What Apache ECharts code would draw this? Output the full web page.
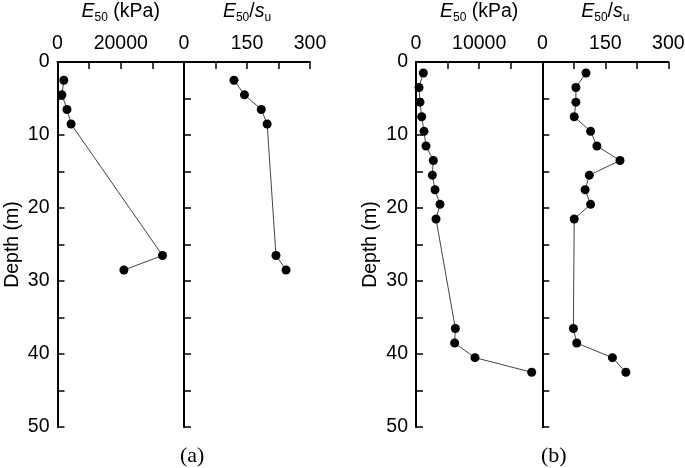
<!DOCTYPE html>
<html>
<head>
<meta charset="utf-8">
<script src="https://cdn.jsdelivr.net/npm/echarts@6/dist/echarts.min.js"></script>
<style>
  html, body { margin: 0; padding: 0; background: #fff; }
  #chart { width: 685px; height: 468px; }
</style>
</head>
<body>
<div id="chart"></div>
<script>
// panel (a)
const depthA = [2.5, 4.5, 6.5, 8.5, 26.5, 28.5]
const e50A = [2000, 1400, 3000, 4300, 33200, 21000]
const ratioA = [119, 144, 184, 198, 219, 243]

// panel (b)
const depthB = [1.5, 3.5, 5.5, 7.5, 9.5, 11.5, 13.5, 15.5, 17.5, 19.5, 21.5, 36.5, 38.5, 40.5, 42.5]
const e50B = [1160, 480, 630, 900, 1270, 1580, 2740, 2590, 3010, 3800, 3170, 6230, 6120, 9340, 18320]
const ratioB = [104, 80, 80, 76, 115, 130, 185, 112, 102, 115, 76, 74, 82, 167, 199]

const depthTicks = [0, 10, 20, 30, 40, 50]
const e50TicksA = [0, 20000]
const e50TicksB = [0, 10000]
const ratioTicks = [0, 150, 300]

const chart = echarts.init(document.getElementById("chart"))

const FONT = "Liberation Sans, Arial, sans-serif"
const FS = 19.5
const axisLine = { show: true, lineStyle: { color: "#000", width: 2 } }
const axisTick = { show: true, inside: true, length: 7, lineStyle: { color: "#000", width: 1.5 } }

const rich = {
  i: { fontFamily: FONT, fontSize: FS, fontStyle: "italic", color: "#000" },
  t: { fontFamily: FONT, fontSize: FS, color: "#000" },
  sub: { fontFamily: FONT, fontSize: 12, color: "#000", padding: [12, 0, 0, 0] },
}

const gridBase = { top: 62, height: 365, containLabel: false, outerBoundsMode: "none" }
const grids = [
  Object.assign({ left: 57.5, width: 126.5 }, gridBase),
  Object.assign({ left: 184, width: 126 }, gridBase),
  Object.assign({ left: 416, width: 126.3 }, gridBase),
  Object.assign({ left: 542.3, width: 126 }, gridBase),
]

function xAxis(idx, max, interval, ticks, name) {
  return {
    gridIndex: idx,
    type: "value",
    position: "top",
    min: 0,
    max: max,
    interval: interval,
    axisLine: axisLine,
    axisTick: axisTick,
    splitLine: { show: false },
    axisLabel: {
      margin: 8,
      fontFamily: FONT,
      fontSize: FS,
      color: "#000",
      showMaxLabel: ticks.includes(max),
      formatter: (v) => (ticks.includes(v) ? String(v) : ""),
    },
    name: name,
    nameLocation: "middle",
    nameGap: 38,
    nameMoveOverlap: false,
    nameTextStyle: { rich: rich },
  }
}

function yAxis(idx, showLabels) {
  return {
    gridIndex: idx,
    type: "value",
    inverse: true,
    min: 0,
    max: 50,
    interval: 5,
    axisLine: axisLine,
    axisTick: axisTick,
    splitLine: { show: false },
    axisLabel: {
      show: showLabels,
      margin: 8,
      fontFamily: FONT,
      fontSize: FS,
      color: "#000",
      formatter: (v) => (depthTicks.includes(v) ? String(v) : ""),
    },
    name: showLabels ? "Depth (m)" : "",
    nameLocation: "middle",
    nameGap: 35,
    nameMoveOverlap: false,
    nameRotate: 90,
    nameTextStyle: { fontFamily: FONT, fontSize: FS, color: "#000" },
  }
}

const e50Name = "{i|E}{sub|50}{t| (kPa)}"
const ratioName = "{i|E}{sub|50}{t|/}{i|s}{sub|u}"

function series(idx, xs, ys) {
  return {
    type: "line",
    xAxisIndex: idx,
    yAxisIndex: idx,
    data: xs.map((x, i) => [x, ys[i]]),
    symbol: "circle",
    symbolSize: 9,
    itemStyle: { color: "#000" },
    lineStyle: { color: "#444", width: 1 },
    animation: false,
  }
}

const option = {
  backgroundColor: "#fff",
  grid: grids,
  xAxis: [
    xAxis(0, 40000, 10000, e50TicksA, e50Name),
    xAxis(1, 300, 75, ratioTicks, ratioName),
    xAxis(2, 20000, 5000, e50TicksB, e50Name),
    xAxis(3, 300, 75, ratioTicks, ratioName),
  ],
  yAxis: [yAxis(0, true), yAxis(1, false), yAxis(2, true), yAxis(3, false)],
  series: [
    series(0, e50A, depthA),
    series(1, ratioA, depthA),
    series(2, e50B, depthB),
    series(3, ratioB, depthB),
  ],
  graphic: [
    { type: "text", left: 180, top: 445, style: { text: "(a)", font: "22px 'Liberation Serif', serif", fill: "#000" } },
    { type: "text", left: 541, top: 445, style: { text: "(b)", font: "22px 'Liberation Serif', serif", fill: "#000" } },
  ],
}

chart.setOption(option)
</script>
</body>
</html>
